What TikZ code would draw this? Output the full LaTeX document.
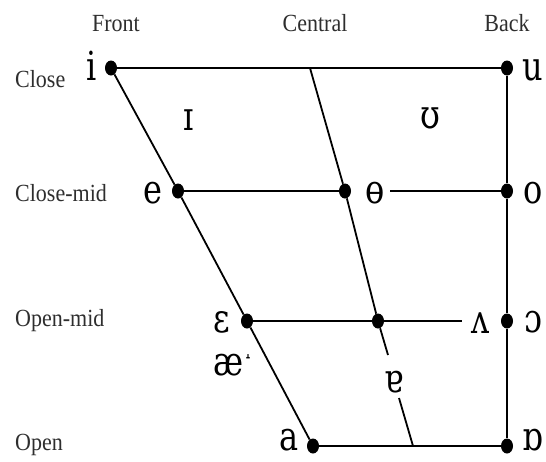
\documentclass[tikz,border=0pt]{standalone}
\usepackage{fontspec}
\setmainfont{Liberation Serif}
\newfontfamily\ipafont{DejaVu Serif}
\newfontfamily\tackfont{DejaVu Sans}
\usetikzlibrary{shapes.geometric}
\definecolor{labelgray}{HTML}{2E2E2E}
\tikzset{
  dot/.style={ellipse, fill=black, inner sep=0pt, minimum width=12pt, minimum height=15pt},
  edge/.style={line width=1.8pt, black},
  ipa/.style={font=\ipafont\fontsize{40}{40}\selectfont, inner sep=0pt, anchor=base, xscale=0.8, transform shape},
  rowlabel/.style={font=\fontsize{22}{22}\selectfont, text=labelgray, inner sep=0pt, anchor=base west, yscale=1.12, transform shape},
  collabel/.style={font=\fontsize{22}{22}\selectfont, text=labelgray, inner sep=0pt, anchor=base, yscale=1.12, transform shape}
}
\begin{document}
\begin{tikzpicture}[x=1pt,y=-1pt]
\useasboundingbox (0,0) rectangle (546,461);
% dots
\node[dot] (i) at (111,68) {};
\node[dot] (u) at (507,68) {};
\node[dot] (e) at (178,191) {};
\node[dot] (cm) at (345,191) {};
\node[dot] (o) at (507,191) {};
\node[dot] (eps) at (247,321) {};
\node[dot] (om) at (378,321) {};
\node[dot] (oo) at (507,321) {};
\node[dot] (a) at (313,446) {};
\node[dot] (ob) at (507,446) {};
% free ends
\coordinate (ctop) at (310,68);
\coordinate (cgapA) at (388,355);
\coordinate (cgapB) at (399,398);
\coordinate (cbot) at (413,446);
\coordinate (thetaR) at (390,191);
\coordinate (wedgeL) at (462,321);
% lines
\draw[edge] (i) -- (u);
\draw[edge] (i) -- (e) -- (eps) -- (a);
\draw[edge] (u) -- (o) -- (oo) -- (ob);
\draw[edge] (a) -- (ob);
\draw[edge] (e) -- (cm);
\draw[edge] (thetaR) -- (o);
\draw[edge] (eps) -- (om) -- (wedgeL);
\draw[edge] (ctop) -- (cm) -- (om) -- (cgapA);
\draw[edge] (cgapB) -- (cbot);
% vowel symbols
\node[ipa] (li) at (92,80) {i};
\node[ipa] (lu) at (533,80) {u};
\node[ipa] (lsmi) at (189,130) {ɪ};
\node[ipa] (lsmu) at (430,128) {ʊ};
\node[ipa] (le) at (153,203) {e};
\node[ipa] (lbo) at (375,203) {ɵ};
\node[ipa] (lo) at (533,203) {o};
\node[ipa] (leps) at (222,332) {ɛ};
\node[ipa] (lwedge) at (481,333) {ʌ};
\node[ipa] (loo) at (533,332) {ɔ};
\node[ipa] (lae) at (233,375) {æ{\tackfont\fontsize{20}{20}\selectfont\raisebox{12pt}{˔}}};
\node[ipa] (lturna) at (394,392) {ɐ};
\node[ipa] (la) at (289,450) {a};
\node[ipa] (lob) at (533,450) {ɒ};
% row and column labels
\node[rowlabel] (rclose) at (15,87) {Close};
\node[rowlabel] (rclosemid) at (15,201) {Close-mid};
\node[rowlabel] (ropenmid) at (15,326) {Open-mid};
\node[rowlabel] (ropen) at (15,450) {Open};
\node[collabel] (cfront) at (116,31) {Front};
\node[collabel] (ccentral) at (315,31) {Central};
\node[collabel] (cback) at (507,31) {Back};
\end{tikzpicture}
\end{document}
